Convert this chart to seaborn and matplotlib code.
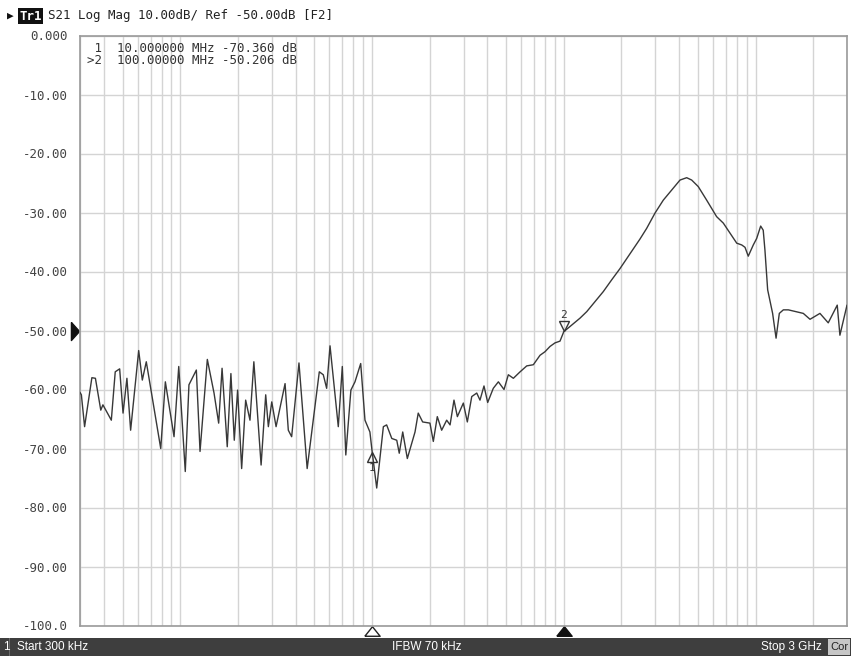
import matplotlib
matplotlib.use('Agg')
import matplotlib.pyplot as plt
import matplotlib.transforms as mtransforms
from matplotlib.patches import Rectangle
from matplotlib.ticker import LogLocator, NullFormatter
import seaborn as sns
import pandas as pd

# S21 trace (frequency in MHz, magnitude in dB)
freq_mhz = [
    0.300, 0.305, 0.317, 0.346, 0.361, 0.385, 0.395, 0.437, 0.458, 0.483,
    0.503, 0.527, 0.551, 0.607, 0.634, 0.665, 0.791, 0.836, 0.928, 0.982,
    1.062, 1.110, 1.213, 1.268, 1.384, 1.500, 1.586, 1.652, 1.758, 1.837,
    1.913, 1.991, 2.090, 2.193, 2.31, 2.42, 2.64, 2.79, 2.88, 3.00,
    3.16, 3.52, 3.66, 3.81, 4.16, 4.59, 5.31, 5.57, 5.80, 6.04,
    6.67, 7.00, 7.30, 7.76, 8.15, 8.73, 9.19, 9.75, 10.0, 10.58,
    11.46, 11.92, 12.68, 13.46, 13.87, 14.46, 15.28, 16.76, 17.42, 18.37,
    20.05, 20.88, 21.90, 23.08, 24.51, 25.53, 26.76, 27.87, 29.94, 31.41,
    33.12, 35.17, 36.57, 38.37, 40.11, 42.9, 45.6, 48.8, 51.4, 54.6,
    59.2, 64.1, 69.4, 75.2, 79.8, 84.8, 90.0, 95.6, 100.0, 109.9,
    121.6, 131.8, 145.6, 160.8, 177.9, 196.5, 221.5, 249.7, 270.5, 299.1,
    330.5, 365.6, 403.9, 437.6, 464.6, 502.6, 556.1, 626.8, 679.4, 736.4,
    798.2, 847.5, 881.5, 916.6, 973.6, 1014, 1064, 1097, 1120, 1157,
    1228, 1280, 1331, 1397, 1483, 1775, 1924, 2168, 2395, 2668,
    2755, 2932, 3000,
]
s21_db = [
    -60.5, -60.9, -66.3, -58.0, -58.1, -63.5, -62.6, -65.2, -57.0, -56.5,
    -64.0, -58.1, -66.9, -53.4, -58.4, -55.3, -70.0, -58.7, -68.0, -56.1,
    -73.9, -59.2, -56.7, -70.5, -54.9, -60.6, -65.7, -56.4, -69.7, -57.3,
    -68.6, -60.1, -73.4, -61.8, -65.2, -55.3, -72.8, -60.9, -66.3, -62.1,
    -66.3, -59.0, -66.9, -68.0, -55.5, -73.4, -57.0, -57.5, -59.8, -52.6,
    -66.3, -56.1, -71.1, -60.1, -58.7, -55.6, -65.2, -67.2, -70.36, -76.7,
    -66.3, -66.0, -68.3, -68.6, -70.8, -67.2, -71.7, -67.2, -64.0, -65.5,
    -65.7, -68.8, -64.6, -66.9, -65.2, -66.0, -61.8, -64.6, -62.3, -65.5,
    -61.2, -60.6, -61.8, -59.4, -62.2, -59.8, -58.7, -60.0, -57.5, -58.1,
    -57.0, -56.0, -55.8, -54.2, -53.6, -52.7, -52.1, -51.8, -50.206, -49.1,
    -47.9, -46.8, -45.1, -43.4, -41.4, -39.5, -37.0, -34.5, -32.7, -30.1,
    -27.9, -26.2, -24.5, -24.1, -24.5, -25.6, -27.9, -30.7, -31.8, -33.5,
    -35.2, -35.5, -35.9, -37.4, -35.5, -34.4, -32.3, -33.0, -36.4, -43.1,
    -47.1, -51.3, -47.1, -46.5, -46.5, -47.1, -48.1, -47.1, -48.7, -45.7,
    -50.8, -47.1, -45.7,
]

marker_names = ['1', '2']
marker_freq = [10.0, 100.0]
marker_db = [-70.360, -50.206]

y_ticks = [0, -10, -20, -30, -40, -50, -60, -70, -80, -90, -100]
y_labels = ['0.000', '-10.00', '-20.00', '-30.00', '-40.00', '-50.00',
            '-60.00', '-70.00', '-80.00', '-90.00', '-100.0']

readout_lines = [' 1  10.000000 MHz -70.360 dB',
                 '>2  100.00000 MHz -50.206 dB']
ref_level = -50

sns.set_theme(style='white')
plt.rcParams['font.family'] = ['DejaVu Sans Mono', 'DejaVu Sans']
narrow = ['Liberation Sans', 'DejaVu Sans']

W, H = 851, 656
fig = plt.figure(figsize=(W / 100, H / 100), dpi=100)
fig.patch.set_facecolor('white')
ax = fig.add_axes([80 / W, 30.5 / H, 767 / W, 590 / H])

df = pd.DataFrame({'freq': freq_mhz, 'db': s21_db})
sns.lineplot(data=df, x='freq', y='db', ax=ax, color='#383838',
             linewidth=1.0, estimator=None, sort=False, zorder=3)

ax.set_xscale('log')
ax.set_xlim(0.3, 3000)
ax.set_ylim(-100, 0)
ax.xaxis.set_major_locator(LogLocator(base=10))
ax.xaxis.set_minor_locator(LogLocator(base=10, subs=range(2, 10)))
ax.xaxis.set_minor_formatter(NullFormatter())
ax.set_yticks(y_ticks)
ax.set_yticklabels(y_labels)
ax.set_xlabel('')
ax.set_ylabel('')
ax.grid(True, which='both', axis='x', color='#d4d4d4', linewidth=1.0)
ax.grid(True, which='major', axis='y', color='#d4d4d4', linewidth=1.0)
ax.tick_params(axis='x', which='both', length=0, labelbottom=False)
ax.tick_params(axis='y', length=0, pad=8.5, labelsize=9, labelcolor='#444444')
for s in ax.spines.values():
    s.set_color('#9a9a9a')
    s.set_linewidth(1.2)

# marker readout in the top left corner
for i, line in enumerate(readout_lines):
    ax.text(87 / W, 1 - (48 + 12 * i) / H, line, transform=fig.transFigure,
            fontsize=9, color='#333333', va='center', ha='left')

# trace markers
m1_tri = mtransforms.offset_copy(ax.transData, fig=fig, x=0, y=-6, units='dots')
m1_txt = mtransforms.offset_copy(ax.transData, fig=fig, x=0, y=-17, units='dots')
m2_tri = mtransforms.offset_copy(ax.transData, fig=fig, x=0, y=6, units='dots')
m2_txt = mtransforms.offset_copy(ax.transData, fig=fig, x=0, y=17, units='dots')
ax.plot(marker_freq[0], marker_db[0], marker='^', markersize=7, markerfacecolor='none',
        markeredgecolor='#333333', markeredgewidth=1.0, transform=m1_tri, zorder=4)
ax.text(marker_freq[0], marker_db[0], marker_names[0], transform=m1_txt,
        ha='center', va='center', fontsize=8, color='#333333')
ax.plot(marker_freq[1], marker_db[1], marker='v', markersize=7, markerfacecolor='none',
        markeredgecolor='#333333', markeredgewidth=1.0, transform=m2_tri, zorder=4)
ax.text(marker_freq[1], marker_db[1], marker_names[1], transform=m2_txt,
        ha='center', va='center', fontsize=8, color='#333333')

# marker position flags under the grid
flag = [(-0.8, -0.5), (0.8, -0.5), (0.0, 0.5), (-0.8, -0.5)]
xtrans = ax.get_xaxis_transform()
ax.plot(marker_freq[0], -0.010, marker=flag, markersize=11, markerfacecolor='white',
        markeredgecolor='#222222', markeredgewidth=1.0, transform=xtrans, clip_on=False)
ax.plot(marker_freq[1], -0.010, marker=flag, markersize=11, markerfacecolor='#111111',
        markeredgecolor='#111111', transform=xtrans, clip_on=False)

# reference level pointer, just left of the frame
ref_mark = [(-0.45, 1), (-0.45, -1), (0.45, 0), (-0.45, 1)]
ax.plot(-0.006, ref_level, marker=ref_mark, markersize=13, color='#111111',
        transform=ax.get_yaxis_transform(), clip_on=False)

# header line
head_y = 1 - 16 / H
fig.text(7 / W, head_y, '\u25b6', fontsize=8, color='#111111', va='center', ha='left')
fig.text(19 / W, head_y, 'Tr1', fontsize=9, color='white', va='center', ha='left',
         fontweight='bold',
         bbox=dict(boxstyle='square,pad=0.1', facecolor='#111111', edgecolor='none'))
fig.text(48 / W, head_y, 'S21 Log Mag 10.00dB/ Ref -50.00dB [F2]',
         fontsize=9, color='#222222', va='center', ha='left')

# status bar
fig.patches.append(Rectangle((0, 0), 1, 18 / H, transform=fig.transFigure,
                             facecolor='#3e3e3e', edgecolor='none'))
fig.patches.append(Rectangle((9 / W, 0), 1 / W, 18 / H, transform=fig.transFigure,
                             facecolor='#6a6a6a', edgecolor='none'))
fig.patches.append(Rectangle((828 / W, 1 / H), 22 / W, 16 / H, transform=fig.transFigure,
                             facecolor='#c6c6c6', edgecolor='none'))
bar_y = 9 / H
fig.text(3 / W, bar_y, '1', family=narrow, fontsize=8.5, color='white', va='center', ha='left')
fig.text(17 / W, bar_y, 'Start 300 kHz', family=narrow, fontsize=8.5, color='white',
         va='center', ha='left')
fig.text(427 / W, bar_y, 'IFBW 70 kHz', family=narrow, fontsize=8.5, color='white',
         va='center', ha='center')
fig.text(822 / W, bar_y, 'Stop 3 GHz', family=narrow, fontsize=8.5, color='white',
         va='center', ha='right')
fig.text(839 / W, bar_y, 'Cor', family=narrow, fontsize=8, color='#222222',
         va='center', ha='center')

fig.savefig('out.png', dpi=100)
